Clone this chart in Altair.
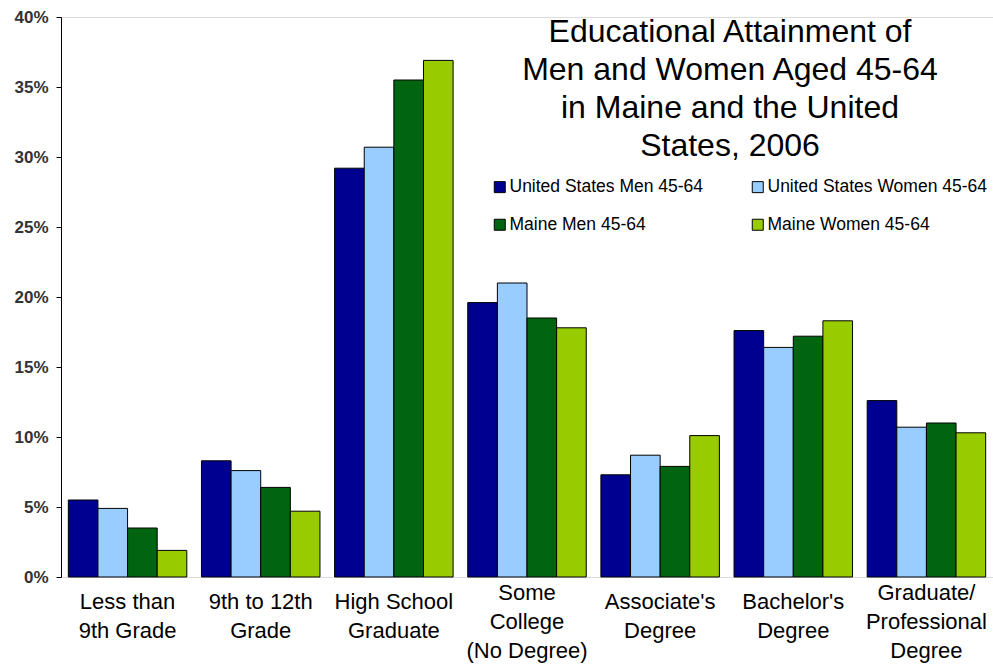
import altair as alt
import pandas as pd

# Education levels (| marks a line break in the axis label)
levels = [
    "Less than|9th Grade",
    "9th to 12th|Grade",
    "High School|Graduate",
    "Some|College|(No Degree)",
    "Associate's|Degree",
    "Bachelor's|Degree",
    "Graduate/|Professional|Degree",
]

groups = [
    "United States Men 45-64",
    "United States Women 45-64",
    "Maine Men 45-64",
    "Maine Women 45-64",
]
colors = ["#000090", "#99CCFF", "#006411", "#99CC00"]

# Share of each population at each level, in percent
us_men = [5.5, 8.3, 29.2, 19.6, 7.3, 17.6, 12.6]
us_women = [4.9, 7.6, 30.7, 21.0, 8.7, 16.4, 10.7]
me_men = [3.5, 6.4, 35.5, 18.5, 7.9, 17.2, 11.0]
me_women = [1.9, 4.7, 36.9, 17.8, 10.1, 18.3, 10.3]

series = [us_men, us_women, me_men, me_women]
rows = []
for g, vals in zip(groups, series):
    for lvl, v in zip(levels, vals):
        rows.append({"level": lvl, "group": g, "pct": v})
df = pd.DataFrame(rows)

FONT = "Liberation Sans"

title = alt.Title(
    text=[
        "Educational Attainment of",
        "Men and Women Aged 45-64",
        "in Maine and the United",
        "States, 2006",
    ],
    font=FONT,
    fontSize=32,
    fontWeight="normal",
    color="black",
    lineHeight=38,
    anchor="middle",
    frame="group",
    baseline="top",
    dx=203,
    dy=159,
)

chart = (
    alt.Chart(df, title=title)
    .mark_bar(stroke="black", strokeWidth=1, opacity=1)
    .encode(
        x=alt.X(
            "level:N",
            sort=levels,
            scale=alt.Scale(paddingInner=0.11, paddingOuter=0.055),
            axis=alt.Axis(
                title=None,
                domain=False,
                ticks=False,
                labelAngle=0,
                labelExpr="split(datum.label, '|')",
                labelFont=FONT,
                labelFontSize=22,
                labelColor="black",
                labelLineHeight=29,
                labelPadding={
                    "condition": {
                        "test": "length(split(datum.label, '|')) > 2",
                        "value": 5,
                    },
                    "value": 14,
                },
                labelLimit=300,
            ),
        ),
        xOffset=alt.XOffset("group:N", sort=groups, scale=alt.Scale(paddingInner=0, paddingOuter=0)),
        y=alt.Y(
            "pct:Q",
            scale=alt.Scale(domain=[0, 40], nice=False),
            axis=alt.Axis(
                title=None,
                values=[0, 5, 10, 15, 20, 25, 30, 35, 40],
                labelExpr="datum.value + '%'",
                grid=False,
                domainColor="black",
                tickColor="black",
                tickSize=5,
                labelFont=FONT,
                labelFontSize=17,
                labelFontWeight="bold",
                labelColor="#333333",
                labelPadding=8,
            ),
        ),
        color=alt.Color(
            "group:N",
            sort=groups,
            scale=alt.Scale(domain=groups, range=colors),
            legend=alt.Legend(
                title=None,
                orient="none",
                legendX=430,
                legendY=161,
                columns=2,
                direction="horizontal",
                symbolType="square",
                symbolSize=121,
                symbolStrokeColor="black",
                symbolStrokeWidth=1,
                symbolOpacity=1,
                labelFont=FONT,
                labelFontSize=17.5,
                labelColor="black",
                labelOffset=1,
                labelLimit=400,
                columnPadding=45,
                rowPadding=19,
                padding=0,
            ),
        ),
    )
    .properties(
        width=932,
        height=560,
        autosize=alt.AutoSizeParams(type="none"),
        padding={"left": 61, "top": 17, "right": 0, "bottom": 87},
    )
    .configure_view(stroke=None)
    .configure(background="white")
)

chart.save("out.html", embed_options={"renderer": "svg", "actions": False})
